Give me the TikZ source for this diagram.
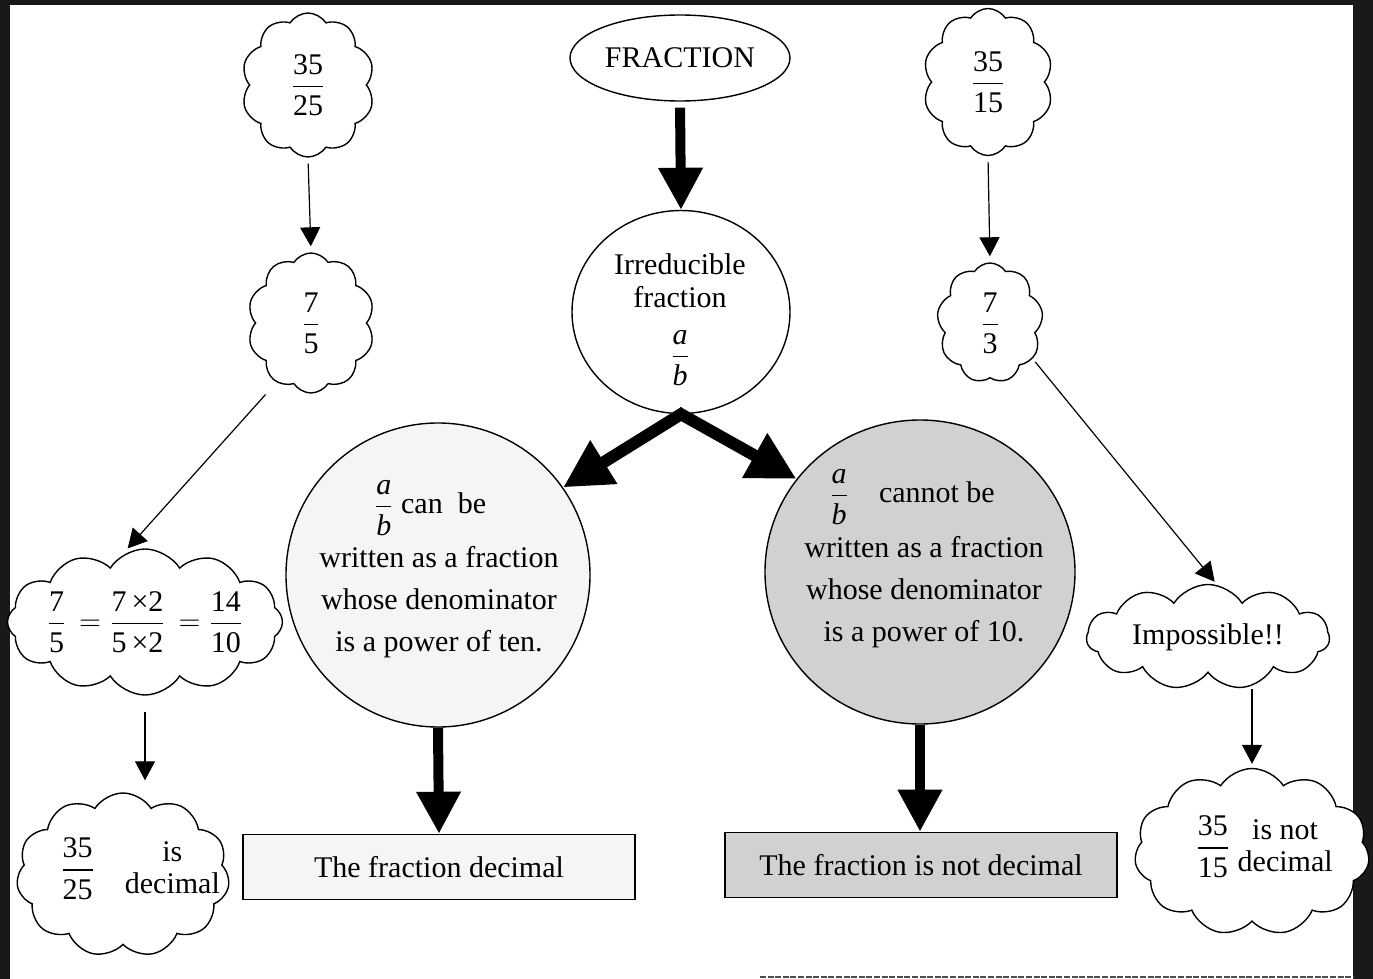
\documentclass[tikz,border=0pt]{standalone}
\usepackage{amsmath}
\usepackage{fontspec}
\setmainfont{Liberation Serif}
\usetikzlibrary{shapes.geometric,shapes.symbols,arrows.meta,calc}
\newcommand{\fr}[2]{$\displaystyle\frac{\text{#1}\rule[-2.5pt]{0pt}{2pt}}{\rule{0pt}{12.5pt}\text{#2}}$}
\begin{document}
\begin{tikzpicture}[x=0.5pt,y=-0.5pt,
  font=\fontsize{15}{18}\selectfont,
  cloudn/.style={cloud, draw, fill=white, line width=0.7pt, cloud puffs=#1,
     cloud puff arc=115, cloud ignores aspect, inner sep=0pt},
  txt/.style={inner sep=0pt, align=center},
  para/.style={inner sep=0pt, align=center, font=\fontsize{15}{21}\selectfont},
  thinarrow/.style={line width=0.6pt, -{Triangle[length=9.5pt,width=10pt]}},
  thickarrow/.style={line width=5pt, -{Triangle[length=21pt,width=21pt]}},
  diagarrow/.style={line width=6pt, -{Triangle[length=24pt,width=24pt]}},
  ovalbox/.style={ellipse, draw, line width=0.7pt, inner sep=0pt},
  rectbox/.style={rectangle, draw, line width=0.8pt, inner sep=0pt,
     minimum width=196pt, minimum height=32.5pt}
]
\useasboundingbox (0,0) rectangle (1373,979);
\fill[white] (0,0) rectangle (1373,979);
% dark frame
\fill[black!90] (0,0) rectangle (10,979);
\fill[black!90] (0,0) rectangle (1373,5);
\fill[black!90] (1353,0) rectangle (1373,979);
\draw[black!70, line width=0.8pt, dash pattern=on 3pt off 0.8pt] (760,977) -- (1353,977);

% left column clouds
\node[cloudn=10, minimum width=66.5pt, minimum height=72pt] (c1) at (308,85) {};
\node[txt] (t1) at (c1.center) {\fr{35}{25}};
\node[cloudn=10, minimum width=63.5pt, minimum height=70pt] (c2) at (311,323) {};
\node[txt] (t2) at (c2.center) {\fr{7}{5}};
\node[cloudn=12, minimum width=137.5pt, minimum height=73pt] (c3) at (145,622) {};
\node[txt] (t3) at (c3.center) {$\displaystyle\frac{\text{7}\rule[-2.5pt]{0pt}{2pt}}{\rule{0pt}{12.5pt}\text{5}}\,=\frac{\text{7\,×2}\rule[-2.5pt]{0pt}{2pt}}{\rule{0pt}{12.5pt}\text{5\,×2}}\,=\frac{\text{14}\rule[-2.5pt]{0pt}{2pt}}{\rule{0pt}{12.5pt}\text{10}}$};
\node[cloudn=11, minimum width=106.5pt, minimum height=82pt] (c5) at (123,875) {};
\node[txt] (t5) at (140,870) {\fr{35}{25}\quad\begin{tabular}{@{}c@{}}is\\[-2pt]decimal\end{tabular}};

% right column clouds
\node[cloudn=10, minimum width=65pt, minimum height=73.5pt] (r1) at (988,82) {};
\node[txt] (tr1) at (r1.center) {\fr{35}{15}};
\node[cloudn=9, minimum width=53pt, minimum height=60pt] (r2) at (990,323) {};
\node[txt] (tr2) at (r2.center) {\fr{7}{3}};
\node[cloudn=11, minimum width=121.5pt, minimum height=52.5pt] (imp) at (1208,637) {};
\node[txt] (timp) at (imp.center) {Impossible!!};
\node[cloudn=11, minimum width=117.5pt, minimum height=83.5pt] (r6) at (1252,852) {};
\node[txt] (tr6) at (1264,848) {\fr{35}{15}\ \begin{tabular}{@{}c@{}}is not\\[-2pt]decimal\end{tabular}};

% centre column
\node[ovalbox, minimum width=110pt, minimum height=43pt] (frac) at (680,58) {FRACTION};
\node[ovalbox, minimum width=109pt, minimum height=101.5pt] (irr) at (681,312) {};
\node[txt, font=\fontsize{15}{16.5}\selectfont] (tirr1) at (680,281) {Irreducible\\fraction};
\node[txt] (tirr2) at (680,358) {\fr{\textit{a}}{\textit{b}}};

\node[ovalbox, fill=black!4, minimum width=152pt, minimum height=152pt] (lE) at (438,575) {};
\node[txt] (lE1) at (430,508) {\fr{\textit{a}}{\textit{b}}\ can\ \ be};
\node[para] (lE2) at (439,602) {written as a fraction\\ whose denominator\\ is a power of ten.};
\node[ovalbox, fill=black!18, minimum width=155pt, minimum height=152pt] (rE) at (920,572) {};
\node[txt] (rE1) at (912,497) {\fr{\textit{a}}{\textit{b}}\quad cannot be};
\node[para] (rE2) at (924,592) {written as a fraction\\ whose denominator\\ is a power of 10.};

\node[rectbox, fill=black!4] (lB) at (439,867) {The fraction decimal};
\node[rectbox, fill=black!18] (rB) at (921,865) {The fraction is not decimal};

% connectors
\draw[thinarrow, shorten <=3pt, shorten >=3pt] (c1.south) -- (c2.north);
\draw[thinarrow, shorten <=48pt, shorten >=5pt] ($(c2.center)!0.33!(c2.east)$) -- (c3.110);
\draw[thinarrow, shorten <=8pt, shorten >=6pt] (c3.south) -- (c3.south |- c5.north);
\draw[thinarrow, shorten <=3pt, shorten >=3pt] (r1.south) -- (r2.north);
\draw[thinarrow, shorten <=2pt, shorten >=2pt] (r2.-40) -- (imp.80);
\draw[thinarrow, shorten <=8pt, shorten >=2pt] (r6.north |- imp.south) -- (r6.north);

\draw[thickarrow, shorten <=3pt] (frac.south) -- (irr.north);
\draw[diagarrow, shorten <=-2pt] (irr.south) -- (lE.35);
\draw[diagarrow, shorten <=-2pt] (irr.south) -- (rE.143);
\draw[thickarrow] (lE.south) -- (lB.north);
\draw[thickarrow] (rE.south) -- (rE.south |- rB.north);
\end{tikzpicture}
\end{document}
